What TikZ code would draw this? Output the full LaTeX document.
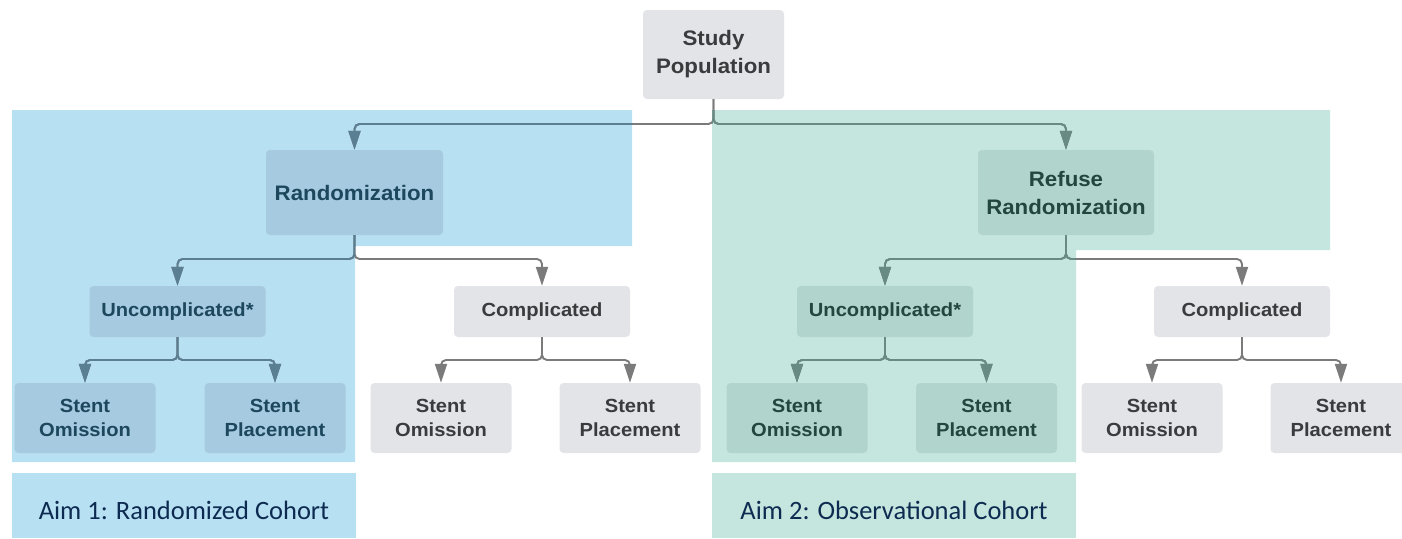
\documentclass[tikz,border=0pt]{standalone}
\usepackage{fontspec}
\setmainfont{Liberation Sans}[FakeStretch=1.06]
\newfontfamily\aimfont{Carlito}
\usetikzlibrary{arrows.meta}
\definecolor{regionblue}{HTML}{B8E0F3}
\definecolor{regiongreen}{HTML}{C5E6DF}
\definecolor{boxgray}{HTML}{E3E4E8}
\definecolor{boxblue}{HTML}{A6CADF}
\definecolor{boxgreen}{HTML}{B1D4CD}
\definecolor{txtgray}{HTML}{3A3B3D}
\definecolor{txtblue}{HTML}{1C475C}
\definecolor{txtgreen}{HTML}{22473F}
\definecolor{arrowgray}{HTML}{7B7B7B}
\definecolor{arrowblue}{HTML}{5A7E92}
\definecolor{arrowgreen}{HTML}{678A83}
\definecolor{aimtxt}{HTML}{0D2B50}
\tikzset{
  box/.style={rounded corners=4pt, inner sep=0pt, align=center,
    font=\bfseries\fontsize{19}{24}\selectfont},
  bigbox/.style={box, font=\bfseries\fontsize{21}{28}\selectfont},
  graybox/.style={fill=boxgray, text=txtgray},
  bluebox/.style={fill=boxblue, text=txtblue},
  greenbox/.style={fill=boxgreen, text=txtgreen},
  leaf/.style={box, minimum width=141pt, minimum height=70pt},
  mid/.style={box, minimum width=176pt, minimum height=51pt},
  conn/.style={line width=1.9pt, rounded corners=5pt,
    -{Triangle[width=12pt,length=19pt]}},
  aimtext/.style={inner sep=0pt, text=aimtxt, font=\aimfont\fontsize{26.5}{30}\selectfont}
}
\newcommand\connectors[1]{%
  \draw[conn,#1] (sp.south) -- (j0) -| (rand.north);
  \draw[conn,#1] (sp.south) -- (j0) -| (refuse.north);
  \draw[conn,#1] (rand.south) -- (j1) -| (uncL.north);
  \draw[conn,#1] (rand.south) -- (j1) -| (compL.north);
  \draw[conn,#1] (refuse.south) -- (j2) -| (uncR.north);
  \draw[conn,#1] (refuse.south) -- (j2) -| (compR.north);
  \draw[conn,#1] (uncL.south) -- (j3) -| (soA.north);
  \draw[conn,#1] (uncL.south) -- (j3) -| (spA.north);
  \draw[conn,#1] (compL.south) -- (j4) -| (soB.north);
  \draw[conn,#1] (compL.south) -- (j4) -| (spB.north);
  \draw[conn,#1] (uncR.south) -- (j5) -| (soC.north);
  \draw[conn,#1] (uncR.south) -- (j5) -| (spC.north);
  \draw[conn,#1] (compR.south) -- (j6) -| (soD.north);
  \draw[conn,#1] (compR.south) -- (j6) -| (spD.north);
}
\begin{document}
\begin{tikzpicture}[x=1pt,y=-1pt]
\useasboundingbox (0,0) rectangle (1402,538);
\fill[white] (0,0) rectangle (1402,538);
% regions
\fill[regionblue] (12,110) -- (632,110) -- (632,246) -- (355,246) -- (355,462) -- (12,462) -- cycle;
\fill[regiongreen] (712,110) -- (1330,110) -- (1330,250) -- (1076,250) -- (1076,462) -- (712,462) -- cycle;
\fill[regionblue] (12,473) rectangle (356,538);
\fill[regiongreen] (712,473) rectangle (1076,538);
\node[aimtext] (aim1) at (184,510) {Aim 1: Randomized Cohort};
\node[aimtext] (aim2) at (894,510) {Aim 2: Observational Cohort};
% nodes
\node[bigbox, graybox, minimum width=141pt, minimum height=89pt] (sp) at (713.5,54.5) {Study\\Population};
\node[bigbox, bluebox, minimum width=177pt, minimum height=85pt] (rand) at (354.5,192.5) {Randomization};
\node[bigbox, greenbox, minimum width=176pt, minimum height=85pt] (refuse) at (1066,192.5) {Refuse\\Randomization};
\node[mid, bluebox] (uncL) at (177.5,311.5) {Uncomplicated*};
\node[mid, graybox] (compL) at (542,311.5) {Complicated};
\node[mid, greenbox] (uncR) at (885,311.5) {Uncomplicated*};
\node[mid, graybox] (compR) at (1242,311.5) {Complicated};
\node[leaf, bluebox] (soA) at (85,418) {Stent\\Omission};
\node[leaf, bluebox] (spA) at (275,418) {Stent\\Placement};
\node[leaf, graybox] (soB) at (441,418) {Stent\\Omission};
\node[leaf, graybox] (spB) at (630,418) {Stent\\Placement};
\node[leaf, greenbox] (soC) at (797,418) {Stent\\Omission};
\node[leaf, greenbox] (spC) at (986.5,418) {Stent\\Placement};
\node[leaf, graybox] (soD) at (1152,418) {Stent\\Omission};
\node[leaf, graybox] (spD) at (1341,418) {Stent\\Placement};
% junctions
\coordinate (j0) at (713.5,124);
\coordinate (j1) at (354.5,259);
\coordinate (j2) at (1066,259);
\coordinate (j3) at (177.5,360);
\coordinate (j4) at (542,360);
\coordinate (j5) at (885,360);
\coordinate (j6) at (1242,360);
% connectors
\connectors{arrowgray}
\begin{scope}
  \clip (12,110) -- (632,110) -- (632,246) -- (355,246) -- (355,462) -- (12,462) -- cycle;
  \connectors{arrowblue}
\end{scope}
\begin{scope}
  \clip (712,110) -- (1330,110) -- (1330,250) -- (1076,250) -- (1076,462) -- (712,462) -- cycle;
  \connectors{arrowgreen}
\end{scope}
\end{tikzpicture}
\end{document}
